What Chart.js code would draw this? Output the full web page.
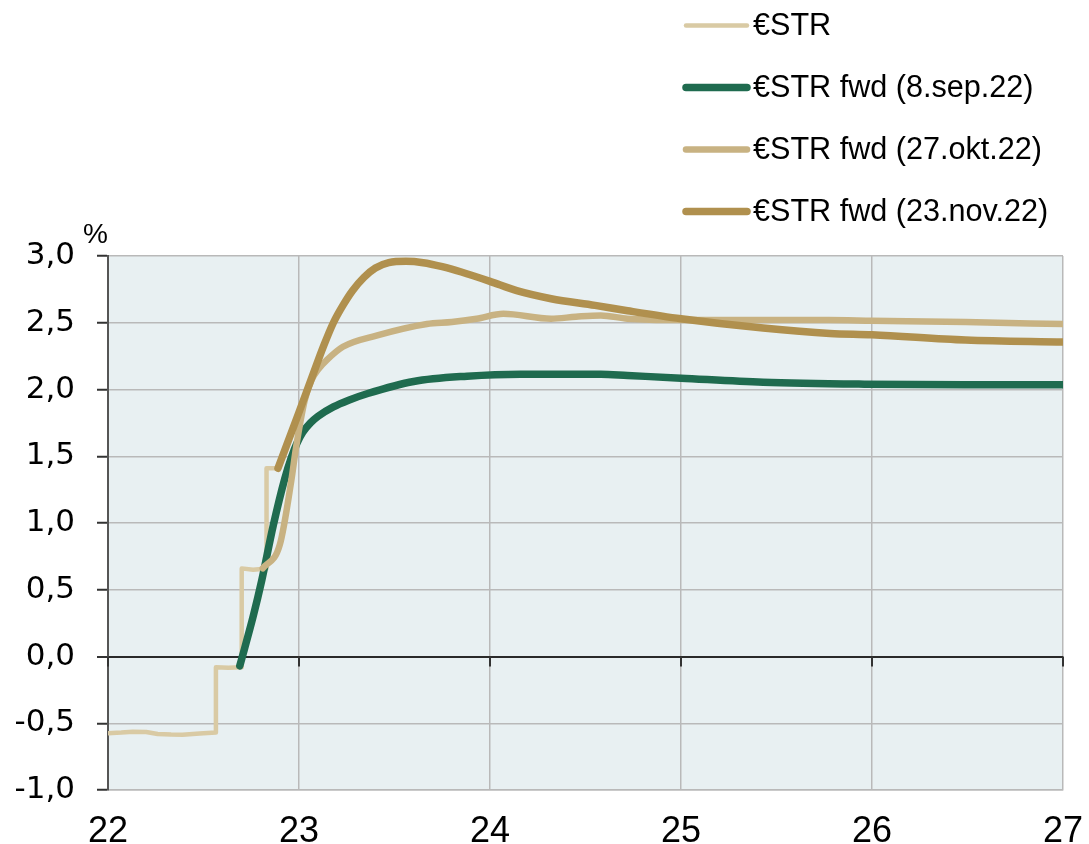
<!DOCTYPE html>
<html>
<head>
<meta charset="utf-8">
<script src="https://cdn.jsdelivr.net/npm/chart.js@4/dist/chart.umd.min.js"></script>
<style>
  html, body { margin: 0; padding: 0; background: #ffffff; }
  #wrap { width: 1089px; height: 844px; position: relative; }
</style>
</head>
<body>
<div id="wrap"><canvas id="c" width="1089" height="844"></canvas></div>
<script>
// Years are written as two-digit values (22 = 2022); rates in percent.
const xTickLabels = ['22', '23', '24', '25', '26', '27'];
const yTickLabels = ['-1,0', '-0,5', '0,0', '0,5', '1,0', '1,5', '2,0', '2,5', '3,0'];

const seriesNames = ['€STR', '€STR fwd (8.sep.22)', '€STR fwd (27.okt.22)', '€STR fwd (23.nov.22)'];

// Realised €STR (step changes after each ECB decision)
const estrX = [22.0, 22.07, 22.13, 22.2, 22.26, 22.33, 22.39, 22.48, 22.565, 22.565, 22.63, 22.70, 22.70, 22.76, 22.83, 22.83, 22.89];
const estrY = [-0.574, -0.57, -0.563, -0.566, -0.58, -0.585, -0.586, -0.576, -0.57, -0.08, -0.085, -0.08, 0.66, 0.65, 0.66, 1.41, 1.41];

// Forward curve 8 Sep 2022
const sepX = [22.69, 22.76, 22.805, 22.865, 22.925, 22.96, 22.99, 23.02, 23.06, 23.1, 23.18, 23.26, 23.36, 23.6, 23.88, 24.16, 24.58, 24.72, 25.0, 25.43, 25.96, 26.49, 27.0];
const sepY = [-0.07, 0.3, 0.57, 0.98, 1.33, 1.49, 1.6, 1.68, 1.75, 1.8, 1.87, 1.92, 1.97, 2.06, 2.1, 2.115, 2.115, 2.105, 2.085, 2.055, 2.04, 2.035, 2.035];

// Forward curve 27 Oct 2022
const oktX = [22.81, 22.9, 22.96, 22.985, 23.03, 23.065, 23.1, 23.145, 23.23, 23.41, 23.67, 23.8, 23.93, 24.07, 24.32, 24.45, 24.58, 24.72, 25.0, 25.77, 26.0, 26.49, 27.0];
const oktY = [0.66, 0.84, 1.32, 1.57, 1.92, 2.07, 2.15, 2.22, 2.32, 2.405, 2.49, 2.505, 2.53, 2.567, 2.53, 2.545, 2.555, 2.53, 2.52, 2.52, 2.515, 2.505, 2.49];

// Forward curve 23 Nov 2022
const novX = [22.89, 23.0, 23.07, 23.13, 23.18, 23.23, 23.28, 23.34, 23.40, 23.47, 23.56, 23.65, 23.75, 23.85, 24.0, 24.14, 24.32, 24.55, 24.72, 25.0, 25.43, 25.78, 26.0, 26.49, 27.0];
const novY = [1.41, 1.83, 2.10, 2.33, 2.5, 2.63, 2.74, 2.84, 2.91, 2.95, 2.96, 2.95, 2.92, 2.88, 2.81, 2.74, 2.68, 2.63, 2.59, 2.53, 2.46, 2.42, 2.41, 2.37, 2.355];

const pts = (xs, ys) => xs.map((x, i) => ({ x: x, y: ys[i] }));

const COLORS = ['#d9caa4', '#1f6b4f', '#c8b282', '#b0904e'];
const WIDTHS = [4.5, 7.5, 6.5, 7.5];

// Shaded plot background
const plotBackground = {
  id: 'plotBackground',
  beforeDraw(chart) {
    const { ctx, chartArea: a } = chart;
    ctx.save();
    ctx.fillStyle = '#e8f0f2';
    ctx.fillRect(a.left, a.top, a.right - a.left, a.bottom - a.top);
    ctx.restore();
  }
};

// Small tick marks hanging below the zero line, the "%" unit and the legend
const extras = {
  id: 'extras',
  beforeDatasetsDraw(chart) {
    const { ctx, scales: { x, y } } = chart;
    const y0 = y.getPixelForValue(0);
    ctx.save();
    ctx.strokeStyle = '#333333';
    ctx.lineWidth = 2;
    x.ticks.forEach(t => {
      const px = Math.round(x.getPixelForValue(t.value));
      ctx.beginPath();
      ctx.moveTo(px, y0);
      ctx.lineTo(px, y0 + 10);
      ctx.stroke();
    });
    ctx.restore();
  },
  afterDraw(chart) {
    const { ctx } = chart;
    ctx.save();
    ctx.fillStyle = '#000';
    ctx.font = '28px "Liberation Sans", Arial, sans-serif';
    ctx.textAlign = 'left';
    ctx.textBaseline = 'alphabetic';
    ctx.fillText('%', 83, 243);

    // Legend: one row per series, line sample followed by its label
    const x0 = 686, x1 = 747, tx = 753;
    chart.data.datasets.forEach((ds, i) => {
      const ry = 25.5 + i * 62;
      ctx.strokeStyle = ds.borderColor;
      ctx.lineWidth = ds.borderWidth;
      ctx.lineCap = 'round';
      ctx.beginPath();
      ctx.moveTo(x0, ry);
      ctx.lineTo(x1, ry);
      ctx.stroke();
      ctx.fillStyle = '#000';
      ctx.font = '30.6px "Liberation Sans", Arial, sans-serif';
      ctx.textBaseline = 'middle';
      ctx.fillText(ds.label, tx, ry + 1);
    });
    ctx.restore();
  }
};

const datasets = [
  { label: seriesNames[0], data: pts(estrX, estrY), order: 4, tension: 0 },
  { label: seriesNames[1], data: pts(sepX, sepY), order: 3, cubicInterpolationMode: 'monotone' },
  { label: seriesNames[2], data: pts(oktX, oktY), order: 2, cubicInterpolationMode: 'monotone' },
  { label: seriesNames[3], data: pts(novX, novY), order: 1, cubicInterpolationMode: 'monotone' }
].map((d, i) => Object.assign(d, {
  borderColor: COLORS[i],
  backgroundColor: COLORS[i],
  borderWidth: WIDTHS[i],
  pointRadius: 0,
  fill: false,
  borderJoinStyle: 'round',
  borderCapStyle: 'round'
}));

new Chart(document.getElementById('c'), {
  type: 'line',
  data: { datasets },
  plugins: [plotBackground, extras],
  options: {
    responsive: false,
    animation: false,
    events: [],
    devicePixelRatio: 1,
    layout: { padding: { top: 256, right: 26, left: 0, bottom: 0 } },
    plugins: { legend: { display: false }, tooltip: { enabled: false }, title: { display: false } },
    scales: {
      x: {
        type: 'linear',
        min: 22, max: 27,
        afterFit(s) { s.height = 54; s.paddingLeft = 0; s.paddingRight = 0; },
        afterBuildTicks(s) { s.ticks = xTickLabels.map(l => ({ value: Number(l) })); },
        ticks: {
          callback: (v) => xTickLabels[xTickLabels.indexOf(String(v))],
          color: '#000',
          padding: 20,
          maxRotation: 0,
          autoSkip: false,
          font: { family: '"Liberation Sans", Arial, sans-serif', size: 36 }
        },
        grid: { color: '#b9b9b9', lineWidth: 1.5, drawTicks: false },
        border: { color: '#b9b9b9', width: 1.5 }
      },
      y: {
        type: 'linear',
        min: -1, max: 3,
        afterFit(s) { s.width = 108; s.paddingTop = 0; s.paddingBottom = 0; },
        afterBuildTicks(s) { s.ticks = yTickLabels.map(l => ({ value: Number(l.replace(',', '.')) })); },
        ticks: {
          callback: (v) => yTickLabels.find(l => Number(l.replace(',', '.')) === v),
          color: '#000',
          padding: 22,
          autoSkip: false,
          font: { family: '"DejaVu Sans", sans-serif', size: 31 }
        },
        grid: {
          color: (c) => (c.tick && c.tick.value === 0) ? '#2a2a2a' : '#b9b9b9',
          lineWidth: (c) => (c.tick && c.tick.value === 0) ? 2 : 1.5,
          tickColor: '#333333',
          tickLength: 11,
          tickWidth: 2
        },
        border: { color: '#555555', width: 2 }
      }
    }
  }
});
</script>
</body>
</html>
